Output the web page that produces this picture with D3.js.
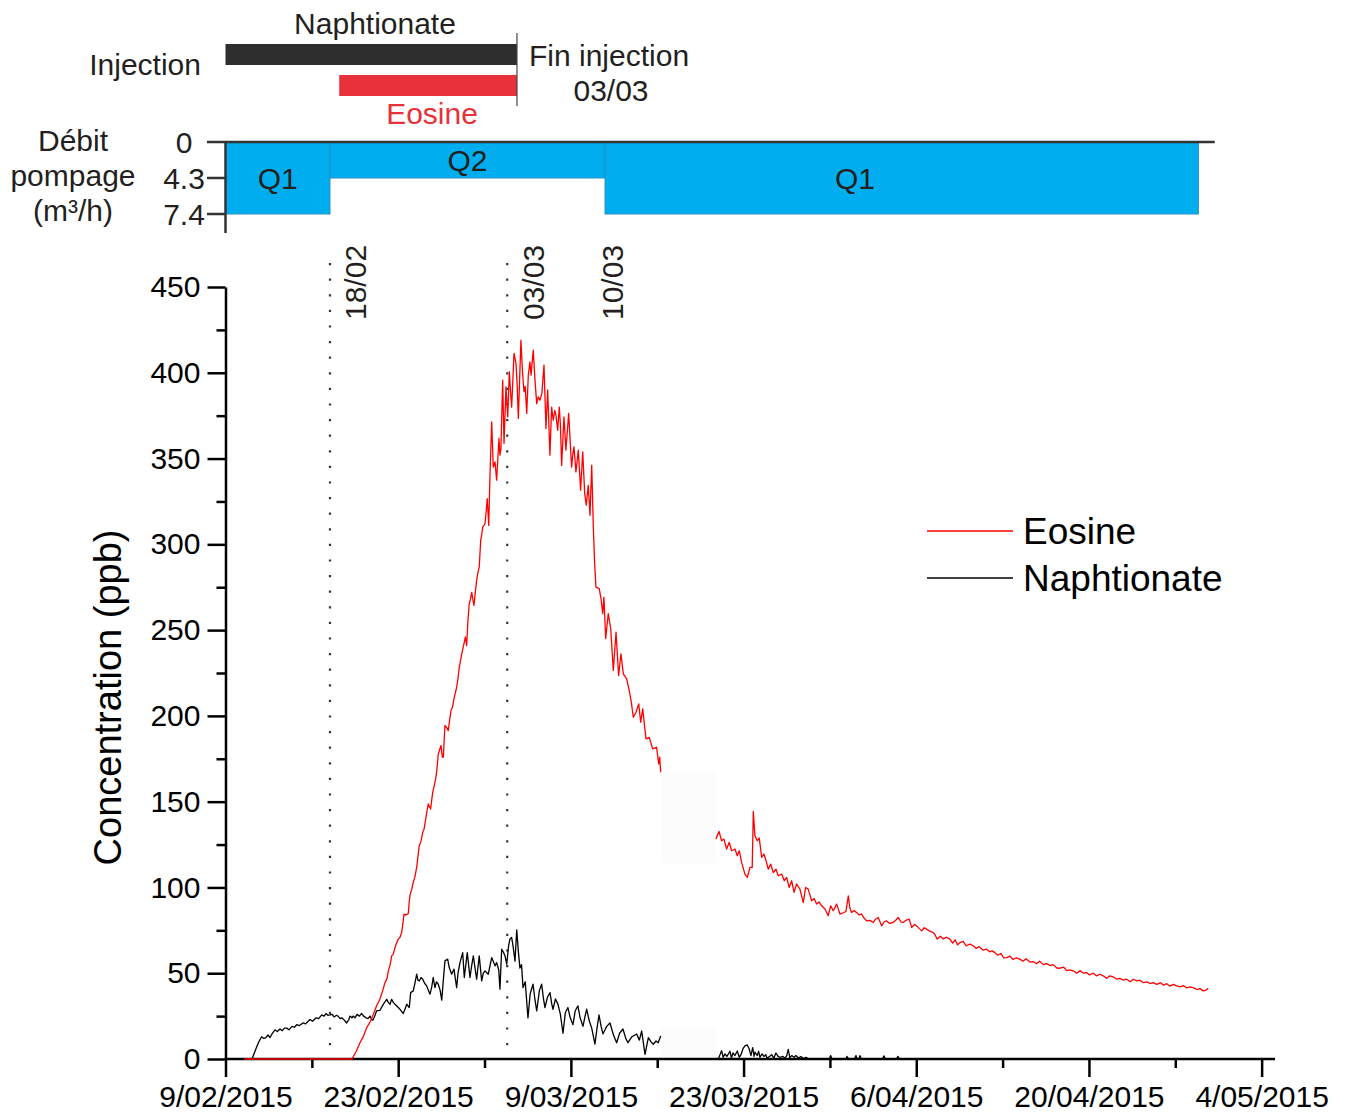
<!DOCTYPE html>
<html>
<head>
<meta charset="utf-8">
<script src="https://cdn.jsdelivr.net/npm/d3@7"></script>
<style>
  body { margin: 0; background: #fff; }
  svg { display: block; }
  text { font-family: "Liberation Sans", Arial, Helvetica, sans-serif; }
</style>
</head>
<body>
<svg id="chart" width="1349" height="1115"></svg>
<script>
// Tracer test, spring 2015: eosine and naphtionate breakthrough (ppb)
// Times are days after 9 February 2015 00:00 UTC.
const ORIGIN = Date.UTC(2015, 1, 9);
const AXIS_END = Date.UTC(2015, 4, 5, 2);

const xMajorTicks = ["2015-02-09", "2015-02-23", "2015-03-09", "2015-03-23", "2015-04-06", "2015-04-20", "2015-05-04"];
const xMinorTicks = ["2015-02-16", "2015-03-02", "2015-03-16", "2015-03-30", "2015-04-13", "2015-04-27"];
const yMajorTicks = [0, 50, 100, 150, 200, 250, 300, 350, 400, 450];
const yMinorTicks = [25, 75, 125, 175, 225, 275, 325, 375, 425];

const flowTickValues = [0, 4.3, 7.4];
const flowTickLabels = ["0", "4.3", "7.4"];

// pumping regime: start/end day, flow (m3/h)
const pumpingPeriods = [
  { label: "Q1", start: 0,     end: 8.47,  flow: 7.4, labelDay: 4.23 },
  { label: "Q2", start: 8.47,  end: 30.77, flow: 4.3, labelDay: 19.62 },
  { label: "Q1", start: 30.77, end: 78.87, flow: 7.4, labelDay: 51.03 }
];

// injection periods (days)
const injections = [
  { tracer: "Naphtionate", start: 0,    end: 23.63, color: "#2e2e2e" },
  { tracer: "Eosine",      start: 9.22, end: 23.63, color: "#e8313a" }
];
const injectionEndDay = 23.63;

// event markers
const events = [
  { label: "18/02", day: 8.47,  labelDay: 10.49, dotted: true },
  { label: "03/03", day: 22.84, labelDay: 24.93, dotted: true },
  { label: "10/03", day: 30.77, labelDay: 31.33, dotted: false }
];

// sample records [day, ppb]
const eosineEarly = [
  [1.50,0],[10.25,0],[10.60,4.5],[10.90,9.5],[11.20,13.5],[11.45,18.3],[11.75,22],[11.98,26],[12.25,31],
  [12.52,35],[12.75,40],[12.93,44.5],[13.10,47],[13.20,51.4],[13.35,55],[13.47,60.1],[13.60,61],[13.74,65],
  [13.90,68],[14.01,69.9],[14.15,71],[14.28,73.7],[14.40,80],[14.47,84.5],[14.65,84],[14.82,84.8],[14.90,92],
  [14.96,95.7],[15.10,99],[15.22,102.9],[15.35,106],[15.50,111.7],[15.60,118],[15.71,124.3],[15.85,127],
  [15.99,132.1],[16.10,134],[16.25,140.8],[16.35,145],[16.44,148.7],[16.63,145.7],[16.72,151],[16.80,155.4],
  [16.98,161.3],[17.10,166],[17.25,177.8],[17.35,180],[17.47,182.7],[17.58,176],[17.66,175.9],[17.79,194.4],
  [17.95,193],[18.06,191.4],[18.18,198],[18.28,203.1],[18.40,205],[18.52,209.9],[18.62,213],[18.74,216.7],
  [18.85,222],[18.95,228.4],[19.05,232],[19.15,236.2],[19.33,242],[19.45,246],[19.55,241],[19.65,255],
  [19.76,265.4],[19.86,268],[19.96,272],[20.05,268],[20.14,264.4],[20.25,272],[20.36,279],[20.45,283],
  [20.57,286.8],[20.69,302.3],[20.78,306],[20.85,310],[20.95,311],[21.04,312],[21.14,320],[21.22,326.7],
  [21.34,311],[21.44,340],[21.58,371.4],[21.71,345],[21.85,348],[21.98,337.4],[22.08,350],[22.17,361.7],
  [22.25,352],[22.33,355.8],[22.47,395.7],[22.58,358.8],[22.74,391.8],[22.88,374.3],[23.01,400.6],[23.10,390],
  [23.20,380],[23.39,411.3],[23.55,405.5],[23.65,392],[23.74,373.4],[23.95,419],[24.08,400],[24.20,388.9],
  [24.30,392],[24.42,376.3],[24.55,398.6],[24.68,406.4],[24.77,398.6],[24.95,413.2],[25.09,395.7],[25.23,382],
  [25.35,386],[25.49,384],[25.65,388],[25.82,404.5],[25.98,367.5],[26.12,390],[26.30,352],[26.44,380],
  [26.57,372.4],[26.70,378],[26.79,375.3],[26.93,366.5],[27.06,380],[27.15,370],[27.25,346],[27.44,374.3],
  [27.60,354.9],[27.82,376.3],[28.06,345],[28.15,352],[28.25,356.8],[28.41,342.2],[28.60,354.9],[28.79,331.5],
  [28.96,353.9],[29.12,329.6],[29.25,322.8],[29.41,334.4],[29.55,316.9],[29.69,346.1],[29.82,310.1],[29.92,290],
  [30.03,275.1],[30.30,274.2],[30.45,268],[30.58,259.6],[30.68,269.2],[30.82,245],[31.03,259.6],[31.23,250.8],
  [31.44,226.5],[31.66,248.8],[31.87,223.5],[32.06,236.2],[32.25,224.5],[32.52,221.6],[32.73,214.8],[32.90,208],
  [33.06,199.2],[33.28,202.1],[33.50,207],[33.66,196.3],[33.82,204.1],[34.09,186.6],[34.35,187.5],[34.63,180.8],
  [34.95,181.7],[35.12,172],[35.20,176],[35.28,167.1]
];

const eosineLate = [
  [39.76,128.2],[40.01,132.7],[40.22,127.2],[40.41,128.2],[40.63,122.4],[40.84,126.3],[41.03,121.4],[41.30,122.4],
  [41.49,118.5],[41.65,121.4],[41.84,114.6],[42.11,107.8],[42.30,105.8],[42.52,111.7],[42.70,111.7],[42.79,144.3],
  [42.92,130.2],[43.11,127.2],[43.27,128.8],[43.47,117.5],[43.65,119.5],[43.82,115.6],[44.00,110.7],[44.20,113.6],
  [44.41,108.7],[44.63,110.7],[44.81,106.8],[45.09,107.8],[45.30,103.9],[45.49,105.8],[45.70,100],[45.90,103.9],
  [46.09,97.1],[46.30,102],[46.57,99],[46.84,91.2],[47.03,100],[47.24,99],[47.52,92.2],[47.72,93.5],[47.92,90.3],
  [48.12,91.5],[48.33,89.3],[48.60,87.4],[48.86,83.5],[49.06,89.3],[49.27,86.4],[49.55,90.3],[49.81,84.5],
  [50.14,85.4],[50.30,86],[50.49,95.1],[50.62,88],[50.76,85.4],[50.95,86.5],[51.17,85.4],[51.37,84],[51.57,84.5],
  [51.78,82],[51.98,80.5],[52.25,80.8],[52.51,79.6],[52.70,81.5],[52.92,82.5],[53.19,77.6],[53.40,80],[53.60,80.5],
  [53.85,79],[54.13,79.6],[54.35,81],[54.54,82.5],[54.75,80],[54.94,79.6],[55.20,81],[55.43,81.5],[55.63,76.6],
  [55.85,78.5],[56.03,77.6],[56.25,76],[56.44,74.7],[56.65,76.5],[56.84,75.7],[57.10,74.5],[57.38,73.7],[57.55,72],
  [57.70,69.9],[57.95,71.5],[58.20,70],[58.45,71],[58.73,69.9],[58.95,67.5],[59.15,69.5],[59.35,66.5],[59.54,67.9],
  [59.80,68.5],[60.05,66],[60.35,67],[60.62,66],[60.85,64.5],[61.10,65.5],[61.40,63.5],[61.71,64],[61.95,62.5],
  [62.15,63],[62.38,62],[62.60,60.5],[62.85,61.5],[63.10,59],[63.33,59.1],[63.60,60],[63.85,58],[64.10,59],
  [64.40,58.2],[64.65,57],[64.90,58.5],[65.20,56.5],[65.48,56.8],[65.75,55.5],[66.00,57],[66.30,55],[66.57,55.6],
  [66.85,54.5],[67.10,55],[67.40,53],[67.65,52.9],[67.95,53.5],[68.20,51.5],[68.45,52],[68.73,51.4],[69.00,50],
  [69.30,51.5],[69.55,50],[69.81,50.4],[70.05,49],[70.35,50],[70.60,48.5],[70.89,49.4],[71.15,48.5],[71.45,47],
  [71.70,48.5],[71.97,47.9],[72.25,46.5],[72.50,47],[72.80,46],[73.05,46.5],[73.35,45],[73.60,46.5],[73.90,45.5],
  [74.13,45.9],[74.40,44.5],[74.70,45],[74.95,44],[75.21,44.5],[75.50,43.5],[75.80,44.5],[76.05,43],[76.30,43.9],
  [76.55,42.5],[76.85,43.5],[77.11,42.6],[77.40,42],[77.65,42.8],[77.90,41.5],[78.20,42],[78.45,41.6],[78.75,40.5],
  [79.00,41],[79.27,39.7],[79.50,40.2],[79.67,41.3]
];

const naphtionateEarly = [
  [2.15,0],[2.47,6],[2.70,10],[2.93,13],[3.10,12],[3.28,12.5],[3.45,14],[3.61,12.5],[3.80,15],[4.01,17],[4.20,16],
  [4.42,17.5],[4.60,16.5],[4.78,18],[4.96,18],[5.15,17],[5.39,19],[5.58,18.5],[5.77,20],[6.00,19.5],[6.28,21],
  [6.50,20.5],[6.70,22],[6.85,23],[7.05,22],[7.34,24],[7.55,23.5],[7.80,25.7],[8.00,25],[8.15,26.5],[8.30,25.5],
  [8.47,25.7],[8.65,26],[8.80,24.5],[9.00,25.5],[9.12,25],[9.30,23.5],[9.44,24],[9.65,22.5],[9.82,21],[10.00,23],
  [10.09,25],[10.25,24],[10.34,25],[10.50,24],[10.66,26],[10.85,25],[11.04,26.5],[11.20,25],[11.39,24],[11.55,23.5],
  [11.71,25],[11.85,23],[11.96,22.7],[12.10,25],[12.24,28],[12.52,28.4],[12.80,32],[13.07,34.8],[13.20,33],
  [13.34,31.9],[13.47,34.8],[13.60,33],[13.74,31.9],[14.01,30],[14.20,28.5],[14.41,26.5],[14.55,29],[14.69,31.9],
  [14.90,30],[15.01,38.7],[15.22,39.7],[15.35,44],[15.50,49.4],[15.60,46],[15.71,45.5],[15.85,47.5],[15.99,46.5],
  [16.15,44],[16.31,42.6],[16.45,40],[16.58,37.8],[16.72,42],[16.84,47.5],[16.98,41.6],[17.10,45],[17.25,43.6],
  [17.40,40],[17.53,34.3],[17.65,45],[17.79,57.2],[18.01,58.2],[18.15,53],[18.34,49.4],[18.52,52.4],[18.74,41.6],
  [18.85,50],[19.01,56.2],[19.23,62],[19.36,47.5],[19.60,62],[19.82,47.5],[19.95,54],[20.09,60.1],[20.25,52],
  [20.36,46.5],[20.57,60.1],[20.77,45.5],[20.90,50],[21.04,51.4],[21.30,49.4],[21.58,59.1],[21.85,54.3],[21.98,56.2],
  [22.15,52],[22.25,40.7],[22.39,64],[22.55,62],[22.66,60.1],[22.80,55.3],[22.95,66],[23.06,69.9],[23.20,70.8],
  [23.31,66],[23.47,57],[23.61,75.3],[23.75,62],[23.87,53],[24.00,55],[24.12,41.6],[24.30,45],[24.52,24],[24.70,38],
  [24.93,43.6],[25.08,35],[25.23,28],[25.45,40],[25.63,43.6],[25.78,35],[25.90,30],[26.10,36],[26.31,38.7],
  [26.45,32],[26.55,29],[26.75,35],[26.95,32],[27.15,26],[27.36,15],[27.55,27],[27.76,30],[27.95,24],[28.17,20],
  [28.35,28],[28.57,31],[28.75,24],[28.98,19],[29.15,25],[29.28,29],[29.50,22],[29.69,18],[29.95,8.7],[30.12,18],
  [30.28,25.7],[30.45,19],[30.60,14.6],[30.90,19],[31.17,21],[31.45,14],[31.71,9.5],[31.95,15],[32.22,17.5],
  [32.45,12],[32.63,9.5],[32.95,13],[33.33,14.6],[33.55,11],[33.74,16.3],[34.01,2.7],[34.28,12.5],[34.50,10],
  [34.68,8.6],[34.90,10.5],[35.08,9.5],[35.28,13.4]
];

const naphtionateLate = [
  [39.95,0],[40.10,2.7],[40.22,4.8],[40.35,1],[40.49,3],[40.65,1.5],[40.90,4.5],[41.02,0.5],[41.14,3.5],[41.30,2],
  [41.49,4.7],[41.65,1],[41.79,2.5],[41.95,6],[42.11,7.6],[42.30,8.2],[42.45,6],[42.60,2],[42.74,6.6],[42.85,1.5],
  [42.92,4],[43.11,2],[43.22,4.5],[43.33,1],[43.50,3],[43.65,1.5],[43.80,2.5],[43.90,0.5],[44.10,1.5],[44.28,2.5],
  [44.45,0.5],[44.62,3.5],[44.80,1.5],[44.95,1],[45.20,1.5],[45.36,0.5],[45.50,2],[45.62,5.6],[45.75,0.8],[45.90,2],
  [46.10,1],[46.25,2],[46.45,0.5],[46.65,1.5],[46.85,0.3],[47.06,1],[47.30,0],[48.95,0],[49.06,2],[49.17,0],
  [50.30,0],[50.38,1.5],[50.50,0],[51.00,0],[51.11,2],[51.22,0],[51.35,0],[51.43,2],[51.55,0],[53.25,0],
  [53.38,1.8],[53.50,0],[54.40,0],[54.51,1.5],[54.65,0]
];

// faint patches left where the record has no data
const gapPatches = [
  { from: 35.3, to: 39.76, lo: 114, hi: 168 },
  { from: 35.3, to: 39.76, lo: 1, hi: 18 }
];

const legendItems = [
  { name: "Eosine", color: "#ff0000" },
  { name: "Naphtionate", color: "#000000" }
];

// ---------------------------------------------------------------------------
const dayToDate = d => new Date(ORIGIN + d * 864e5);
const parseDay = d3.utcParse("%Y-%m-%d");
const fmtTick = d3.utcFormat("%-d/%m/%Y");

const svg = d3.select("#chart");
const x = d3.scaleUtc().domain([new Date(ORIGIN), new Date(AXIS_END)]).range([225.5, 1275]);
const y = d3.scaleLinear().domain([0, 450]).range([1059, 287]);
const flowY = d3.scaleLinear().domain(flowTickValues).range([142, 178, 214]);
const xd = d => x(dayToDate(d));

const DARK = "#231f20";

// ----- injection panel -----
const inj = svg.append("g");
const barRows = { Naphtionate: [44, 65], Eosine: [75, 96] };
inj.selectAll("rect").data(injections).join("rect")
  .attr("x", d => xd(d.start))
  .attr("width", d => xd(d.end) - xd(d.start))
  .attr("y", d => barRows[d.tracer][0])
  .attr("height", d => barRows[d.tracer][1] - barRows[d.tracer][0])
  .attr("fill", d => d.color);
inj.append("line")
  .attr("x1", xd(injectionEndDay)).attr("x2", xd(injectionEndDay))
  .attr("y1", 33).attr("y2", 106)
  .attr("stroke", "#444").attr("stroke-width", 1.2);

const txt = (g, s, tx, ty, opts = {}) => g.append("text")
  .attr("x", tx).attr("y", ty)
  .attr("font-size", opts.size || 30)
  .attr("fill", opts.fill || DARK)
  .attr("text-anchor", opts.anchor || "start")
  .text(s);

txt(inj, "Naphtionate", 375, 34, { anchor: "middle" });
txt(inj, "Injection", 201, 75, { anchor: "end" });
txt(inj, "Eosine", 432, 124, { anchor: "middle", fill: "#e8313a" });
txt(inj, "Fin injection", 529, 66);
txt(inj, "03/03", 611, 101, { anchor: "middle" });

// ----- pumping-rate panel -----
const pump = svg.append("g");
pump.selectAll("rect").data(pumpingPeriods).join("rect")
  .attr("x", d => xd(d.start))
  .attr("width", d => xd(d.end) - xd(d.start))
  .attr("y", flowY(0))
  .attr("height", d => flowY(d.flow) - flowY(0))
  .attr("fill", "#00aeef")
  .attr("stroke", "#2590c8").attr("stroke-width", 1);
pump.selectAll("text.q").data(pumpingPeriods).join("text")
  .attr("class", "q")
  .attr("x", d => xd(d.labelDay))
  .attr("y", d => (flowY(0) + flowY(d.flow)) / 2 + 11)
  .attr("text-anchor", "middle")
  .attr("font-size", 30)
  .attr("fill", DARK)
  .text(d => d.label);

pump.append("line")
  .attr("x1", 207).attr("x2", xd(80.2))
  .attr("y1", flowY(0)).attr("y2", flowY(0))
  .attr("stroke", "#333").attr("stroke-width", 2.5);
pump.append("line")
  .attr("x1", xd(0)).attr("x2", xd(0))
  .attr("y1", flowY(0)).attr("y2", 233)
  .attr("stroke", "#333").attr("stroke-width", 2.5);
pump.selectAll("line.ft").data(flowTickValues.slice(1)).join("line")
  .attr("class", "ft")
  .attr("x1", 207).attr("x2", xd(0))
  .attr("y1", d => flowY(d)).attr("y2", d => flowY(d))
  .attr("stroke", "#333").attr("stroke-width", 2.5);
pump.selectAll("text.fl").data(flowTickValues).join("text")
  .attr("class", "fl")
  .attr("x", 184)
  .attr("y", d => flowY(d) + 11)
  .attr("text-anchor", "middle")
  .attr("font-size", 30)
  .attr("fill", DARK)
  .text((d, i) => flowTickLabels[i]);
txt(pump, "Débit", 73, 151, { anchor: "middle" });
txt(pump, "pompage", 73, 186, { anchor: "middle" });
txt(pump, "(m³/h)", 73, 221, { anchor: "middle" });

// ----- concentration panel -----
const plot = svg.append("g");

plot.selectAll("rect.gap").data(gapPatches).join("rect")
  .attr("class", "gap")
  .attr("x", d => xd(d.from))
  .attr("width", d => xd(d.to) - xd(d.from))
  .attr("y", d => y(d.hi))
  .attr("height", d => y(d.lo) - y(d.hi))
  .attr("fill", "#fcfcfc");

// event markers
plot.selectAll("line.ev").data(events.filter(e => e.dotted)).join("line")
  .attr("class", "ev")
  .attr("x1", d => xd(d.day)).attr("x2", d => xd(d.day))
  .attr("y1", 263).attr("y2", y(0))
  .attr("stroke", "#333").attr("stroke-width", 2.2)
  .attr("stroke-dasharray", "2.2 13.4");
plot.selectAll("text.ev").data(events).join("text")
  .attr("class", "ev")
  .attr("transform", d => `translate(${xd(d.labelDay)},320) rotate(-90)`)
  .attr("dy", "0.36em")
  .attr("font-size", 30)
  .attr("fill", DARK)
  .text(d => d.label);

// axes
const xAxis = plot.append("g").attr("transform", `translate(0,${y(0)})`)
  .call(d3.axisBottom(x)
    .tickValues(xMajorTicks.map(parseDay))
    .tickFormat(fmtTick)
    .tickSize(18).tickSizeOuter(0).tickPadding(9));
const xMinor = plot.append("g").attr("transform", `translate(0,${y(0)})`)
  .call(d3.axisBottom(x).tickValues(xMinorTicks.map(parseDay)).tickFormat("").tickSize(9).tickSizeOuter(0));
xMinor.select(".domain").remove();

const yAxis = plot.append("g").attr("transform", `translate(${xd(0)},0)`)
  .call(d3.axisLeft(y).tickValues(yMajorTicks).tickSize(18).tickSizeOuter(0).tickPadding(7));
const yMinor = plot.append("g").attr("transform", `translate(${xd(0)},0)`)
  .call(d3.axisLeft(y).tickValues(yMinorTicks).tickFormat("").tickSize(9).tickSizeOuter(0));
yMinor.select(".domain").remove();

[xAxis, xMinor, yAxis, yMinor].forEach(g => {
  g.selectAll("path, line").attr("stroke", "#000").attr("stroke-width", 2.5);
  g.selectAll("text").attr("font-size", 30).attr("fill", "#000")
    .attr("font-family", "'Liberation Sans', Arial, sans-serif");
});
xAxis.select(".domain").attr("d", `M${x.range()[0] - 1},0H${x.range()[1]}`);

plot.append("text")
  .attr("transform", `translate(121,${(530 + 865) / 2}) rotate(-90)`)
  .attr("text-anchor", "middle")
  .attr("font-size", 38)
  .attr("fill", "#000")
  .text("Concentration (ppb)");

// series
const line = d3.line().x(d => xd(d[0])).y(d => y(d[1]));
[[naphtionateEarly, "#000"], [naphtionateLate, "#000"], [eosineEarly, "#ff0000"], [eosineLate, "#ff0000"]]
  .forEach(([data, color]) => {
    plot.append("path")
      .datum(data)
      .attr("d", line)
      .attr("fill", "none")
      .attr("stroke", color)
      .attr("stroke-width", 1.3)
      .attr("stroke-linejoin", "round");
  });

// legend
const legend = svg.append("g");
legendItems.forEach((d, i) => {
  const ly = 531 + i * 47;
  legend.append("line")
    .attr("x1", 927).attr("x2", 1013).attr("y1", ly).attr("y2", ly)
    .attr("stroke", d.color).attr("stroke-width", 1.3);
  legend.append("text")
    .attr("x", 1023).attr("y", ly + 13)
    .attr("font-size", 37).attr("fill", "#000")
    .text(d.name);
});
</script>
</body>
</html>
